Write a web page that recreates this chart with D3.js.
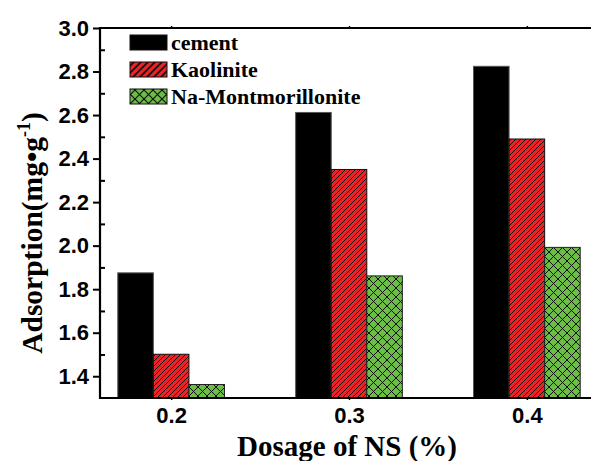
<!DOCTYPE html>
<html>
<head>
<meta charset="utf-8">
<script src="https://cdn.jsdelivr.net/npm/d3@7/dist/d3.min.js"></script>
<style>
  html, body { margin: 0; padding: 0; background: #fff; }
  svg { display: block; }
</style>
</head>
<body>
<svg id="chart" width="591" height="461"></svg>
<script>
// Adsorption of NS on three substrates at three dosages
const dosages = [0.2, 0.3, 0.4];
const seriesNames = ["cement", "Kaolinite", "Na-Montmorillonite"];
const cement = [1.875, 2.612, 2.824];
const kaolinite = [1.501, 2.350, 2.490];
const montmorillonite = [1.362, 1.861, 1.992];
const yTicks = [1.4, 1.6, 1.8, 2.0, 2.2, 2.4, 2.6, 2.8, 3.0];
const yMinorTicks = [1.5, 1.7, 1.9, 2.1, 2.3, 2.5, 2.7, 2.9];

const seriesValues = [cement, kaolinite, montmorillonite];
const fills = ["#000000", "url(#hatchRed)", "url(#crossGreen)"];
const legendFills = ["#000000", "url(#hatchRedLg)", "url(#crossGreenLg)"];
const strokes = ["#555", "#111", "#222"];

const svg = d3.select("#chart");
const plotLeft = 100, plotRight = 598, plotTop = 28, plotBottom = 398;

const x = d3.scaleLinear().domain([0.16, 0.44]).range([plotLeft, plotRight]);
const y = d3.scaleLinear().domain([1.3, 3.0]).range([plotBottom, plotTop]);
const barW = 0.02;

// Patterns
const defs = svg.append("defs");
function hatch(id, size, sw) {
  const p = defs.append("pattern").attr("id", id).attr("patternUnits", "userSpaceOnUse")
    .attr("width", size).attr("height", size);
  p.append("rect").attr("width", size).attr("height", size).attr("fill", "#ec2226");
  p.append("path").attr("d", `M0,${size} L${size},0 M${-size/2},${size/2} L${size/2},${-size/2} M${size/2},${size*1.5} L${size*1.5},${size/2}`)
    .attr("stroke", "#111").attr("stroke-width", sw);
}
function cross(id, size, sw) {
  const p = defs.append("pattern").attr("id", id).attr("patternUnits", "userSpaceOnUse")
    .attr("width", size).attr("height", size);
  p.append("rect").attr("width", size).attr("height", size).attr("fill", "#6cbd45");
  p.append("path").attr("d", `M0,0 L${size},${size} M${size},0 L0,${size}`)
    .attr("stroke", "#111").attr("stroke-width", sw);
}
hatch("hatchRed", 5, 1);
hatch("hatchRedLg", 7, 1.8);
cross("crossGreen", 9, 1);
cross("crossGreenLg", 9, 1.2);

// Bars
const clip = defs.append("clipPath").attr("id", "plotClip");
clip.append("rect").attr("x", plotLeft).attr("y", plotTop)
  .attr("width", plotRight - plotLeft).attr("height", plotBottom - plotTop);

const barsG = svg.append("g").attr("clip-path", "url(#plotClip)");
seriesValues.forEach((vals, si) => {
  barsG.selectAll(null).data(dosages).enter().append("rect")
    .attr("x", (d) => x(d - 1.5 * barW + si * barW))
    .attr("width", x(barW) - x(0))
    .attr("y", (d, i) => y(vals[i]))
    .attr("height", (d, i) => y(1.3) - y(vals[i]))
    .attr("fill", fills[si])
    .attr("stroke", strokes[si])
    .attr("stroke-width", 1);
});

// Axes frame
const axisColor = "#000";
svg.append("line").attr("x1", plotLeft).attr("x2", plotLeft).attr("y1", plotTop - 1).attr("y2", plotBottom + 1)
  .attr("stroke", axisColor).attr("stroke-width", 2.2);
svg.append("line").attr("x1", plotLeft - 1).attr("x2", 600).attr("y1", plotBottom).attr("y2", plotBottom)
  .attr("stroke", axisColor).attr("stroke-width", 2.2);
svg.append("line").attr("x1", plotLeft - 1).attr("x2", 600).attr("y1", plotTop).attr("y2", plotTop)
  .attr("stroke", axisColor).attr("stroke-width", 2.2);

// Y axis: major ticks outward with labels, minor ticks inward
const yAxis = d3.axisLeft(y).tickValues(yTicks).tickSize(7).tickPadding(4)
  .tickFormat(d3.format(".1f"));
const gy = svg.append("g").attr("transform", `translate(${plotLeft},0)`).call(yAxis);
gy.select(".domain").remove();
gy.selectAll(".tick line").attr("stroke", axisColor).attr("stroke-width", 2);
gy.selectAll(".tick text")
  .attr("font-family", "'Liberation Sans', Arial, sans-serif")
  .attr("font-weight", "bold").attr("font-size", 22).attr("fill", "#000");

const yMinor = d3.axisRight(y).tickValues(yMinorTicks).tickSize(5).tickFormat("");
const gym = svg.append("g").attr("transform", `translate(${plotLeft},0)`).call(yMinor);
gym.select(".domain").remove();
gym.selectAll(".tick line").attr("stroke", axisColor).attr("stroke-width", 2);

// X axis: tiny ticks at dosage positions
const xAxis = d3.axisBottom(x).tickValues(dosages).tickSize(2).tickPadding(7)
  .tickFormat(d3.format(".1f"));
const gx = svg.append("g").attr("transform", `translate(0,${plotBottom})`).call(xAxis);
gx.select(".domain").remove();
gx.selectAll(".tick line").attr("stroke", axisColor).attr("stroke-width", 1.5);
gx.selectAll(".tick text")
  .attr("font-family", "'Liberation Sans', Arial, sans-serif")
  .attr("font-weight", "bold").attr("font-size", 22).attr("fill", "#000");

const xTop = d3.axisTop(x).tickValues(dosages).tickSize(2).tickFormat("");
const gxt = svg.append("g").attr("transform", `translate(0,${plotTop})`).call(xTop);
gxt.select(".domain").remove();
gxt.selectAll(".tick line").attr("stroke", axisColor).attr("stroke-width", 1.5);

// Axis titles
const serif = "'Liberation Serif', 'Times New Roman', serif";
svg.append("text")
  .attr("x", 347).attr("y", 456)
  .attr("text-anchor", "middle")
  .attr("font-family", serif).attr("font-weight", "bold").attr("font-size", 29)
  .text("Dosage of NS (%)");

const yt = svg.append("text")
  .attr("transform", "translate(42,233) rotate(-90)")
  .attr("text-anchor", "middle")
  .attr("font-family", serif).attr("font-weight", "bold").attr("font-size", 29.5);
yt.append("tspan").text("Adsorption(mg•g");
yt.append("tspan").attr("dy", -12).attr("font-size", 18).text("-1");
yt.append("tspan").attr("dy", 12).text(")");

// Legend
const legend = svg.append("g");
seriesNames.forEach((name, i) => {
  const ly = 35 + i * 27;
  legend.append("rect").attr("x", 130).attr("y", ly).attr("width", 37).attr("height", 15)
    .attr("fill", legendFills[i]).attr("stroke", "#111").attr("stroke-width", 1);
  legend.append("text").attr("x", 171).attr("y", ly + 15)
    .attr("font-family", serif).attr("font-weight", "bold").attr("font-size", 22)
    .text(name);
});
</script>
</body>
</html>
